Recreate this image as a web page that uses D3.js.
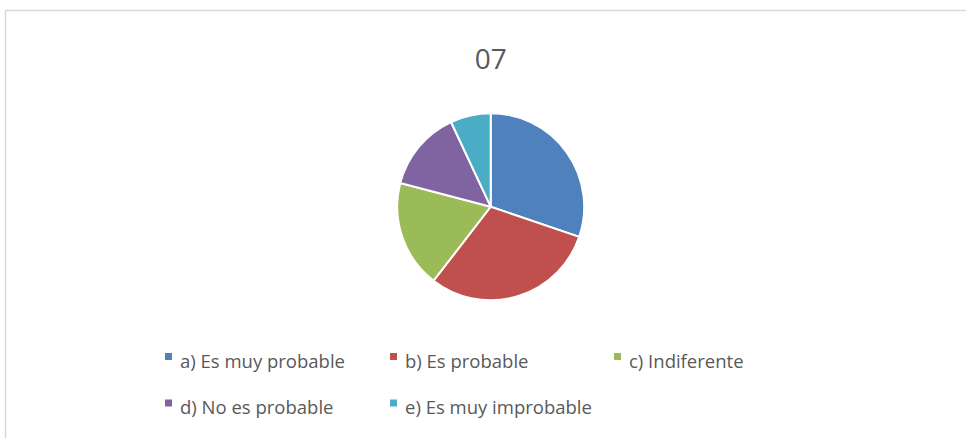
<!DOCTYPE html>
<meta charset="utf-8">
<style>
    body { margin: 0; background: #fff; }
    text { font-family: "Open Sans", "Liberation Sans", sans-serif; fill: #595959; }
</style>
<body>
<script src="https://cdn.jsdelivr.net/npm/d3@7"></script>
<script>
    var title = "07";
    var categories = ["a) Es muy probable", "b) Es probable", "c) Indiferente", "d) No es probable", "e) Es muy improbable"];
    var values = [13, 13, 8, 6, 3];
    var colors = ["#4f81bd", "#c0504d", "#9bbb59", "#8064a2", "#4bacc6"];

    var width = 966, height = 438;
    var cx = 490.7, cy = 206.7, radius = 93.5;

    var svg = d3.select("body").append("svg")
        .attr("width", width)
        .attr("height", height);

    // chart frame (top and left edges only visible)
    svg.append("path")
        .attr("d", "M5.5," + height + "V10.5H" + width)
        .attr("fill", "none")
        .attr("stroke", "#d9d9d9")
        .attr("stroke-width", 1.5);

    svg.append("text")
        .attr("x", cx)
        .attr("y", 69)
        .attr("text-anchor", "middle")
        .style("font-size", "28px")
        .text(title);

    var data = categories.map(function(c, i) { return {name: c, value: values[i]}; });
    var pie = d3.pie().sort(null).value(function(d) { return d.value; });
    var arc = d3.arc().innerRadius(0).outerRadius(radius);
    var color = d3.scaleOrdinal().domain(categories).range(colors);

    svg.append("g")
        .attr("transform", "translate(" + cx + "," + cy + ")")
        .selectAll("path")
        .data(pie(data))
        .enter().append("path")
        .attr("d", arc)
        .attr("fill", function(d) { return color(d.data.name); })
        .attr("stroke", "#fff")
        .attr("stroke-width", 2);

    // legend: 3 columns
    var colX = [165, 390, 614], rowY = [356.5, 403];
    var item = svg.append("g").selectAll("g")
        .data(categories)
        .enter().append("g")
        .attr("transform", function(d, i) {
            return "translate(" + colX[i % 3] + "," + rowY[Math.floor(i / 3)] + ")";
        });
    item.append("rect")
        .attr("x", 0).attr("y", -3.5)
        .attr("width", 7).attr("height", 7)
        .attr("fill", function(d) { return color(d); });
    item.append("text")
        .attr("x", 15)
        .attr("y", 11)
        .style("font-size", "18.5px")
        .text(function(d) { return d; });
</script>
